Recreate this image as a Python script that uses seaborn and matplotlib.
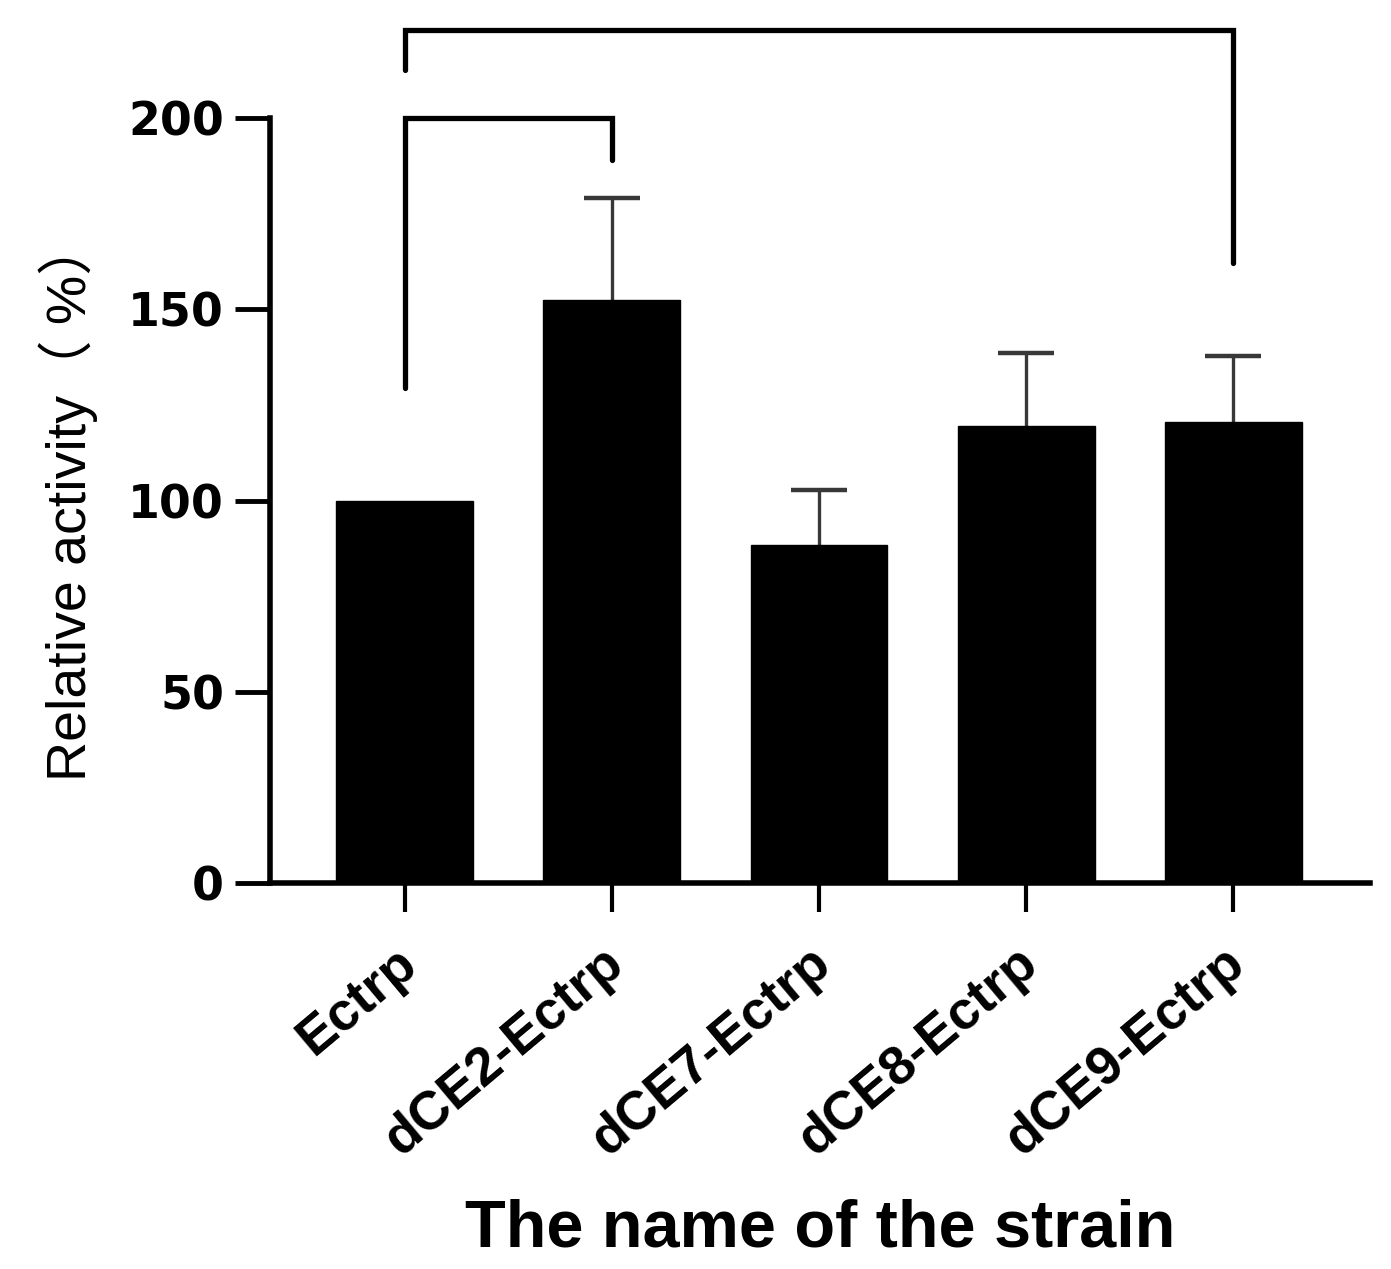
import matplotlib
matplotlib.use("Agg")
import matplotlib.pyplot as plt
import matplotlib.transforms as mtrans
import seaborn as sns
import pandas as pd
import numpy as np

strains = ["Ectrp", "dCE2-Ectrp", "dCE7-Ectrp", "dCE8-Ectrp", "dCE9-Ectrp"]
activity = [100, 152.5, 88.5, 119.5, 120.5]
sd = [0, 26.5, 14.3, 19.2, 17.3]
yticks = [0, 50, 100, 150, 200]

df = pd.DataFrame({"strain": strains, "activity": activity})

sns.set_theme(style="ticks")
plt.rcParams['font.family'] = ['Liberation Sans', 'Noto Sans CJK SC', 'DejaVu Sans']
for key in ["text.color", "axes.labelcolor", "xtick.color", "ytick.color", "axes.edgecolor"]:
    plt.rcParams[key] = "black"

fig = plt.figure(figsize=(13.91, 12.69), dpi=100)
ax = fig.add_axes([0.194, 0.304, 0.791, 0.603])

sns.barplot(data=df, x="strain", y="activity", color="black", width=0.66,
            errorbar=None, ax=ax, edgecolor="black", saturation=1, zorder=2)

# upper-only error bars with caps
xs = np.arange(len(strains))
act = np.array(activity)
err = np.array(sd)
has_err = err > 0
ax.vlines(xs[has_err], act[has_err], act[has_err] + err[has_err],
          color="#383838", lw=2.4, zorder=1)
ax.hlines(act[has_err] + err[has_err], xs[has_err] - 0.135, xs[has_err] + 0.135,
          color="#383838", lw=3.2, zorder=1)

ax.set_ylim(0, 200)
ax.set_xlim(-0.65, 4.66)
ax.set_yticks(yticks)
ax.set_yticklabels([str(t) for t in yticks], fontsize=33, fontweight="bold",
                   family=["DejaVu Sans"])
ax.set_xticks(xs)
ax.set_xticklabels(strains, fontsize=39, fontweight="bold", rotation=40,
                   ha="right", va="center", rotation_mode="anchor")
ax.tick_params(axis="y", width=3.5, length=25, color="black", pad=8)
ax.tick_params(axis="x", length=21, width=3, color="black", pad=32)
offset = mtrans.ScaledTranslation(4 / 72, 0, fig.dpi_scale_trans)
for lab in ax.get_xticklabels():
    lab.set_transform(lab.get_transform() + offset)
for side in ["top", "right"]:
    ax.spines[side].set_visible(False)
for side in ["left", "bottom"]:
    ax.spines[side].set_linewidth(4)
    ax.spines[side].set_color("black")

ax.set_ylabel("Relative activity（ %）", fontsize=40, labelpad=22)
ax.set_xlabel("The name of the strain", fontsize=48, fontweight="bold", labelpad=24)

# significance brackets
def bracket(x1, x2, ytop, yl, yr):
    ax.plot([x1, x1, x2, x2], [yl, ytop, ytop, yr], color="black", lw=3.8,
            clip_on=False, solid_joinstyle="miter", zorder=4)

bracket(0, 1, 200, 129.5, 189)
bracket(0, 4, 223, 212.5, 162)

fig.savefig("out.png", dpi=100, facecolor="white")
